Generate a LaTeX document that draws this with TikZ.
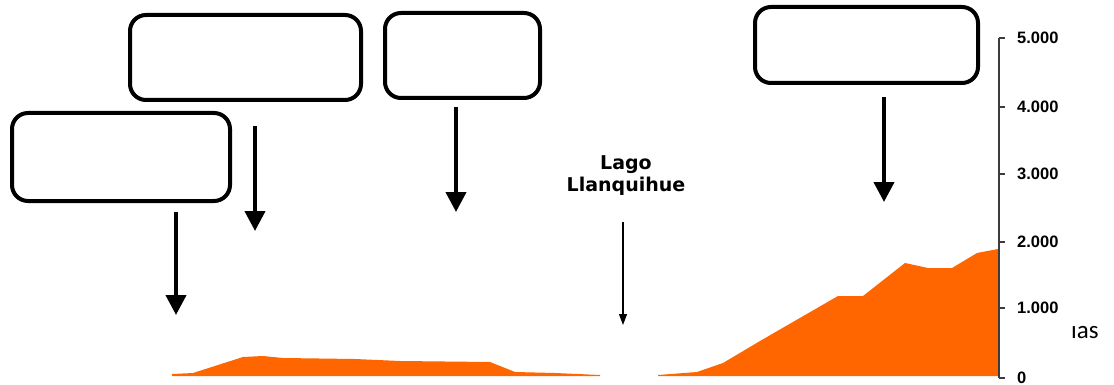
\documentclass[tikz,border=0pt]{standalone}
\usepackage{fontspec}
\setmainfont{Liberation Sans}
\newfontfamily\lagofont{DejaVu Sans}
\newfontfamily\notefont{Carlito}
\usetikzlibrary{arrows.meta}

\definecolor{relief}{RGB}{255,102,0}
\definecolor{axisgray}{RGB}{60,60,60}

\tikzset{
  infobox/.style={draw,line width=4pt,rounded corners=16pt,inner sep=0pt},
  bigarrow/.style={line width=4pt,-{Triangle[width=20pt,length=20pt]}},
  thinarrow/.style={line width=1.2pt,-{Triangle[width=8pt,length=11pt]}},
  ticklabel/.style={anchor=west,font=\bfseries\fontsize{16.5}{16.5}\selectfont,inner sep=0pt}
}

\begin{document}
\begin{tikzpicture}[x=1pt,y=-1pt]
	\useasboundingbox (0,0) rectangle (1114,385);
	
	% Relief profile
	\fill[relief] (172,374) -- (193,373) -- (243,357) -- (263,356) -- (283,358)
	  -- (355,359) -- (400,361) -- (490,362) -- (515,372) -- (555,373)
	  -- (600,375) -- (600,376) -- (172,376) -- cycle;
	\fill[relief] (658,375) -- (697,372) -- (723,363) -- (760,341) -- (838,296)
	  -- (863,296) -- (905,263) -- (928,268) -- (952,268) -- (977,253)
	  -- (998,249) -- (998,376) -- (658,376) -- cycle;
	
	% Height axis
	\draw[axisgray,line width=1.3pt] (999,38) -- (999,378);
	\foreach \h/\yy in {0/378,1.000/308,2.000/242,3.000/174,4.000/107,5.000/38}{
		\draw[axisgray,line width=1.3pt] (999,\yy) -- (1005,\yy);
		\node[ticklabel] at (1017,\yy) {\h};
	}
	
	% Empty boxes
	\node[infobox,minimum width=231pt,minimum height=85pt] (boxA) at (245.5,57.5) {};
	\node[infobox,minimum width=218pt,minimum height=88pt] (boxB) at (121,157) {};
	\node[infobox,minimum width=155pt,minimum height=85pt] (boxC) at (462.5,55.5) {};
	\node[infobox,minimum width=223pt,minimum height=76pt] (boxD) at (866.5,45) {};
	
	% Arrows
	\coordinate (b1) at (176,212);  \coordinate (e1) at (176,315);
	\coordinate (b2) at (255,126);  \coordinate (e2) at (255,231);
	\coordinate (b3) at (456,107);  \coordinate (e3) at (456,212);
	\coordinate (b4) at (884,97);   \coordinate (e4) at (884,202);
	\draw[bigarrow] (b1) -- (e1);
	\draw[bigarrow] (b2) -- (e2);
	\draw[bigarrow] (b3) -- (e3);
	\draw[bigarrow] (b4) -- (e4);
	
	% Lake
	\node[font=\lagofont\bfseries\fontsize{19}{22}\selectfont,align=center,inner sep=0pt]
	  (lago) at (626,176) {Lago\\Llanquihue};
	\coordinate (lagotop) at (623,222);
	\coordinate (lagoend) at (623,325);
	\draw[thinarrow] (lagotop) -- (lagoend);
	
	% Cut text
	\node[font=\notefont\fontsize{25}{25}\selectfont,anchor=base west,inner sep=0pt]
	  (cut) at (1071,338) {ıas};
	
\end{tikzpicture}
\end{document}
